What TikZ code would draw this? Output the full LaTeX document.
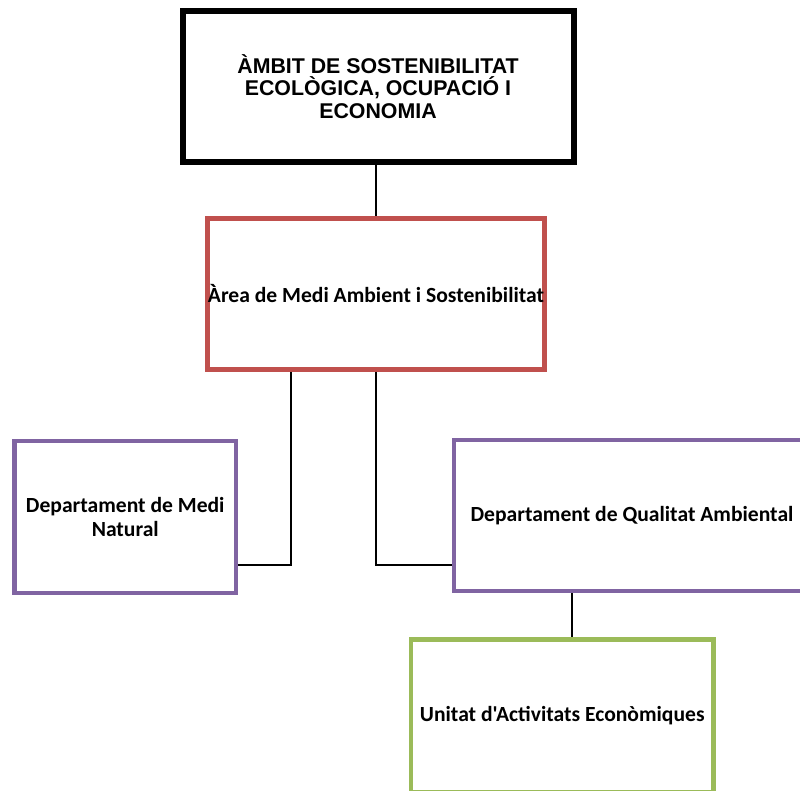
\documentclass[tikz,border=0pt]{standalone}
\usepackage{fontspec}
\newfontfamily\headfont{Liberation Sans}
\newfontfamily\unitfont{Carlito}
\definecolor{ambitred}{HTML}{C0504D}
\definecolor{deptviolet}{HTML}{8064A2}
\definecolor{unitgreen}{HTML}{9BBB59}
\begin{document}
\begin{tikzpicture}[x=0.75pt, y=-0.75pt, line join=miter,
	box/.style={draw, rectangle, fill=white, align=center, inner sep=0pt, line width=3.6pt, font=\unitfont\bfseries\fontsize{16.2}{18.5}\selectfont},
	conn/.style={line width=1.5pt, black}]
			%\tikzset{box/.append style={draw=gray}}
			\useasboundingbox (0,0) rectangle (800,790);
			\node[box, draw=black, line width=4.5pt, minimum width=293.25pt, minimum height=113.6pt, font=\headfont\bfseries\fontsize{16}{16.9}\selectfont] (ambit) at (378,86.25) {ÀMBIT DE SOSTENIBILITAT\\ECOLÒGICA, OCUPACIÓ I\\ECONOMIA};
			\node[box, draw=ambitred, minimum width=252.75pt, minimum height=113.25pt] (area) at (376,294) {Àrea de Medi Ambient i Sostenibilitat};
			\node[box, draw=deptviolet, minimum width=166pt, minimum height=114pt] (natural) at (125.25,517) {Departament de Medi\\Natural};
			\node[box, draw=deptviolet, minimum width=267pt, minimum height=113.25pt] (qualitat) at (632,515.5) {Departament de Qualitat Ambiental};
			\node[box, draw=unitgreen, minimum width=227pt, minimum height=114.75pt] (unitat) at (562.25,716) {Unitat d'Activitats Econòmiques};
			\begin{scope}[on background layer/.try]
			\draw[conn] (area.north |- ambit.south) -- (area.north);
			\draw[conn] ([xshift=-63.75pt]area.south) |- ([yshift=-36pt]natural.east);
			\draw[conn] (area.south) |- ([yshift=-37pt]qualitat.west);
			\draw[conn] ([xshift=-45pt]qualitat.south) -- ([xshift=-45pt]qualitat.south |- unitat.north);
			\end{scope}
		\end{tikzpicture}
\end{document}
